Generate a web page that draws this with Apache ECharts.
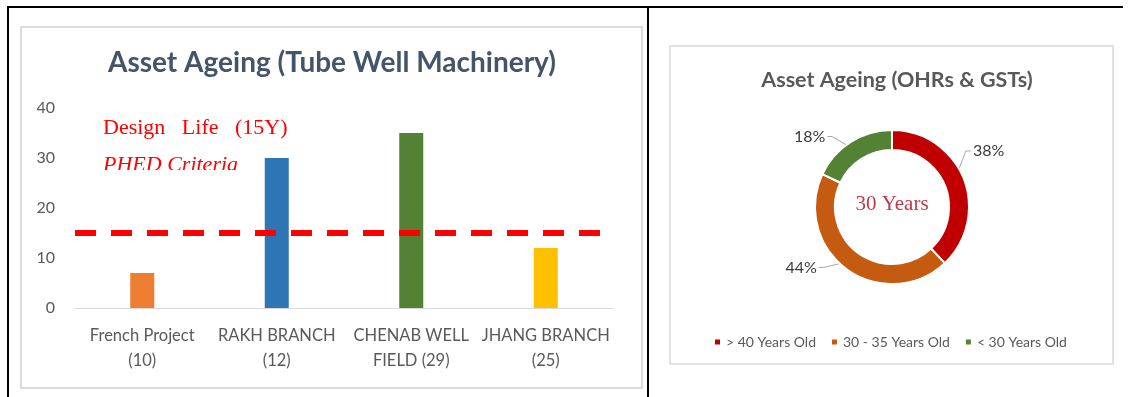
<!DOCTYPE html>
<html>
<head>
<meta charset="utf-8">
<script src="https://cdn.jsdelivr.net/npm/echarts@6/dist/echarts.min.js"></script>
<style>
  html, body { margin: 0; padding: 0; background: #ffffff; }
  #chart { width: 1130px; height: 397px; }
</style>
</head>
<body>
<div id="chart"></div>
<script>
// Tube well machinery age by scheme (years)
const schemes = ['French Project\n(10)', 'RAKH BRANCH\n(12)', 'CHENAB WELL\nFIELD (29)', 'JHANG BRANCH\n(25)'];
const machineryAge = [7, 30, 35, 12];
const designLife = 15;
const yTicks = [0, 10, 20, 30, 40];

// OHRs & GSTs share by age band (%)
const ageBands = ['> 40 Years Old', '30 - 35 Years Old', '< 30 Years Old'];
const ageShares = [38, 44, 18];
const centreNote = '30 Years';

const barColors = ['#ED7D31', '#2E75B6', '#548235', '#FFC000'];
const ringColors = ['#C00000', '#C55A11', '#548235'];
const ringCenter = [892, 207];
// nudges for the ring's percentage labels, in pixels
const labelNudge = [[-17, -24], [-7, -10], [-3, 3]];

const FONT = 'Lato, "Open Sans", sans-serif';
const SERIF = '"Liberation Serif", "DejaVu Serif", serif';

// move a ring label and reroute its leader from inside the ring to the label
function placeRingLabel(p) {
  const [dx, dy] = labelNudge[p.dataIndex];
  const r = p.labelRect;
  const x = r.x + dx;
  const cy = r.y + dy + r.height / 2;
  const pts = p.labelLinePoints;
  if (!pts) return { dx, dy };
  const onRight = x + r.width / 2 > ringCenter[0];
  const endX = onRight ? x - 2 : x + r.width + 2;
  const midX = onRight ? endX - 5 : endX + 5;
  const start = [
    ringCenter[0] + (pts[0][0] - ringCenter[0]) * 0.86,
    ringCenter[1] + (pts[0][1] - ringCenter[1]) * 0.86
  ];
  return { dx, dy, labelLinePoints: [start, [midX, cy], [endX, cy]] };
}

const chart = echarts.init(document.getElementById('chart'), null, { renderer: 'canvas' });

chart.setOption({
  animation: false,
  backgroundColor: '#ffffff',
  title: [
    {
      text: 'Asset Ageing (Tube Well Machinery)',
      left: 327, top: 44, textAlign: 'center',
      textStyle: { fontFamily: FONT, fontSize: 28, fontWeight: 'bold', color: '#44546A' }
    },
    {
      text: 'Asset Ageing (OHRs & GSTs)',
      left: 892, top: 64, textAlign: 'center',
      textStyle: { fontFamily: FONT, fontSize: 21.5, fontWeight: 'bold', color: '#595959' }
    }
  ],
  legend: {
    data: ageBands,
    left: 708, top: 330,
    icon: 'rect', itemWidth: 7, itemHeight: 7, itemGap: 14,
    textStyle: { fontFamily: FONT, fontSize: 14, color: '#595959' }
  },
  grid: { left: 75, right: 517, top: 108, bottom: 89 },
  xAxis: {
    type: 'category',
    data: schemes,
    axisTick: { show: false },
    axisLine: { lineStyle: { color: '#D9D9D9', width: 1 } },
    axisLabel: {
      margin: 15, interval: 0,
      fontFamily: FONT, fontSize: 16.5, color: '#595959', lineHeight: 25
    }
  },
  yAxis: {
    type: 'value', min: 0, max: 40, interval: 10,
    axisLine: { show: false }, axisTick: { show: false },
    splitLine: { show: false },
    axisLabel: {
      margin: 20, fontFamily: FONT, fontSize: 16, color: '#595959',
      formatter: v => (yTicks.includes(v) ? String(v) : '')
    }
  },
  series: [
    {
      type: 'bar',
      barWidth: 24,
      data: machineryAge.map((v, i) => ({ value: v, itemStyle: { color: barColors[i] } })),
      markLine: {
        silent: true, symbol: 'none',
        label: { show: false },
        lineStyle: { color: '#FF0000', width: 6, type: [21, 15] },
        data: [{ yAxis: designLife }]
      },
      z: 3
    },
    {
      type: 'pie',
      center: ringCenter,
      radius: [57, 77],
      startAngle: 90,
      clockwise: true,
      avoidLabelOverlap: false,
      itemStyle: { borderColor: '#ffffff', borderWidth: 2 },
      label: {
        show: true, position: 'outside',
        formatter: '{d}%',
        fontFamily: FONT, fontSize: 16, color: '#3A3A3A'
      },
      labelLine: { show: true, length: 10, length2: 12, lineStyle: { color: '#A6A6A6', width: 1 } },
      labelLayout: placeRingLabel,
      data: ageBands.map((n, i) => ({ name: n, value: ageShares[i], itemStyle: { color: ringColors[i] } })),
      z: 3
    }
  ],
  graphic: [
    // panel frames
    { type: 'rect', z: -10, shape: { x: 21, y: 27, width: 621, height: 361 },
      style: { fill: '#ffffff', stroke: '#DCDCDC', lineWidth: 2 } },
    { type: 'rect', z: -10, shape: { x: 670, y: 46, width: 443, height: 318 },
      style: { fill: '#ffffff', stroke: '#E2E2E2', lineWidth: 2 } },
    // page table rules
    { type: 'line', z: 50, shape: { x1: 7, y1: 7, x2: 1123, y2: 7 }, style: { stroke: '#000000', lineWidth: 2 } },
    { type: 'line', z: 50, shape: { x1: 8, y1: 6, x2: 8, y2: 397 }, style: { stroke: '#000000', lineWidth: 2 } },
    { type: 'line', z: 50, shape: { x1: 648, y1: 6, x2: 648, y2: 397 }, style: { stroke: '#000000', lineWidth: 2 } },
    // design life annotation
    { type: 'text', z: 20, x: 103, y: 117,
      style: { text: 'Design   Life   (15Y)', fill: '#FF0000', font: '22px ' + SERIF, verticalAlign: 'top' } },
    { type: 'text', z: 20, x: 103, y: 154,
      style: { text: 'PHED Criteria', fill: '#FF0000', font: 'italic 22px ' + SERIF, verticalAlign: 'top' } },
    { type: 'rect', z: 21, shape: { x: 98, y: 170, width: 150, height: 14 },
      style: { fill: '#ffffff' } },
    // centre note of the ring
    { type: 'text', z: 20, x: 892, y: 204,
      style: { text: centreNote, fill: '#C0394D', font: '21px ' + SERIF, align: 'center', verticalAlign: 'middle' } }
  ]
});
</script>
</body>
</html>
